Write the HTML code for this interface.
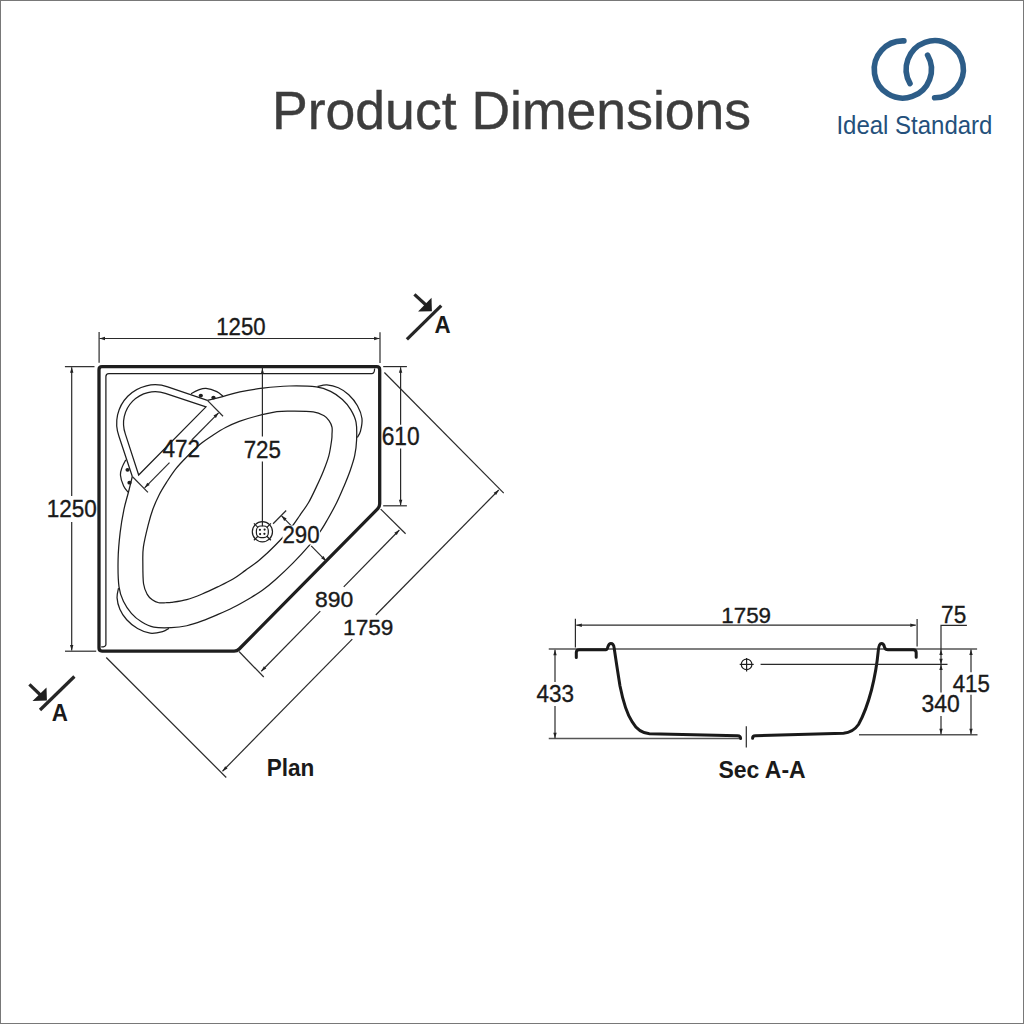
<!DOCTYPE html>
<html><head><meta charset="utf-8"><style>
html,body{margin:0;padding:0;background:#fff;}
body{width:1024px;height:1024px;overflow:hidden;}
svg{display:block;}
.thick{fill:none;stroke:#1e1e1e;stroke-width:3.3;stroke-linejoin:round;}
.thin{fill:none;stroke:#1e1e1e;stroke-width:1.25;}
.thin2{fill:none;stroke:#1e1e1e;stroke-width:1.2;}
.dim{fill:none;stroke:#2a2a2a;stroke-width:1.2;}
.ref{fill:none;stroke:#555;stroke-width:1.5;}
.ah{fill:#222;}
.fill{fill:#1e1e1e;}
.mk{stroke:#262626;stroke-width:3.2;}
.sec{fill:none;stroke:#1a1a1a;stroke-width:3;stroke-linecap:round;stroke-linejoin:round;}
.logo{fill:none;stroke:#2d5d88;stroke-width:5.6;stroke-linecap:round;}
text{font-family:"Liberation Sans",sans-serif;}
.num{fill:#1a1a1a;stroke:#1a1a1a;stroke-width:0.35;}
.bold{font-weight:bold;fill:#1a1a1a;}
.title{fill:#3d3d3d;stroke:#3d3d3d;stroke-width:0.4;}
.brand{fill:#24507b;}
</style></head><body>
<svg width="1024" height="1024" viewBox="0 0 1024 1024">
<rect x="0.5" y="0.5" width="1023" height="1023" fill="#fff" stroke="#787878" stroke-width="1"/>
<path d="M99.00 369.65 Q99.00 366.65 102.00 366.65 L376.70 366.65 Q379.70 366.65 379.70 369.65 L379.70 503.80 Q379.70 506.80 377.59 508.93 L239.21 648.97 Q237.10 651.10 234.10 651.10 L102.00 651.10 Q99.00 651.10 99.00 648.10 Z" class="thick"/>
<path d="M374.6 368.4 Q374.6 373.6 371.6 373.6 L108.9 373.6 Q105.9 373.6 105.9 376.6 L105.9 644.4 Q105.9 646.9 101.2 646.9" class="thin"/>
<path d="M207.40 400.40 C209.95 399.75 217.25 397.94 222.67 396.53 C228.09 395.12 233.23 393.35 239.93 391.94 C246.62 390.54 254.62 389.07 262.84 388.07 C271.05 387.08 280.30 386.19 289.21 386.00 C298.12 385.81 309.40 386.03 316.29 386.93 C323.19 387.82 326.23 389.28 330.58 391.37 C334.93 393.46 339.03 396.42 342.39 399.47 C345.74 402.51 348.46 405.86 350.73 409.64 C353.00 413.43 355.06 417.13 356.03 422.18 C357.01 427.23 356.82 434.38 356.60 439.95 C356.38 445.53 355.80 450.44 354.69 455.65 C353.58 460.85 351.78 466.00 349.95 471.20 C348.13 476.39 345.93 481.60 343.73 486.82 C341.53 492.03 339.48 496.98 336.73 502.51 C333.98 508.04 330.09 515.04 327.25 519.99 C324.41 524.95 322.68 528.02 319.69 532.25 C316.69 536.47 313.76 540.21 309.29 545.36 C304.83 550.51 298.55 557.40 292.89 563.13 C287.23 568.86 280.43 575.23 275.35 579.75 C270.27 584.28 266.58 587.25 262.41 590.29 C258.24 593.32 255.21 595.08 250.32 597.95 C245.43 600.83 238.52 604.77 233.07 607.56 C227.61 610.34 222.73 612.42 217.58 614.65 C212.43 616.88 207.29 619.10 202.17 620.95 C197.04 622.81 191.96 624.63 186.82 625.76 C181.68 626.88 176.84 627.46 171.34 627.69 C165.83 627.92 158.79 628.11 153.80 627.12 C148.82 626.13 145.16 624.05 141.43 621.74 C137.69 619.44 134.39 616.69 131.39 613.29 C128.38 609.88 125.46 605.73 123.40 601.32 C121.33 596.91 119.90 593.83 119.01 586.85 C118.13 579.86 117.90 568.43 118.09 559.40 C118.28 550.37 119.16 541.00 120.14 532.68 C121.12 524.35 122.57 516.24 123.96 509.46 C125.35 502.68 127.10 497.47 128.49 491.98 C129.88 486.48 131.67 479.08 132.30 476.50" class="thin"/>
<path d="M275.28 545.29 C272.45 548.15 269.68 550.84 266.58 553.67 C263.48 556.50 260.21 559.49 256.68 562.27 C253.16 565.05 249.38 567.57 245.44 570.37 C241.51 573.16 237.70 576.28 233.07 579.04 C228.44 581.80 222.80 584.42 217.65 586.92 C212.50 589.41 207.32 591.90 202.17 594.01 C197.02 596.13 191.88 598.20 186.75 599.60 C181.63 601.00 174.90 601.87 171.41 602.40 C167.92 602.92 167.93 602.69 165.82 602.75 C163.71 602.81 161.01 603.26 158.75 602.75 C156.49 602.25 154.17 601.14 152.25 599.74 C150.32 598.35 148.67 597.03 147.22 594.37 C145.78 591.71 144.28 589.00 143.55 583.77 C142.82 578.53 142.86 569.12 142.84 562.99 C142.82 556.85 142.51 553.29 143.41 546.93 C144.30 540.58 146.61 531.22 148.21 524.86 C149.82 518.51 151.21 513.81 153.02 508.81 C154.84 503.82 156.85 499.32 159.10 494.91 C161.36 490.51 163.75 486.72 166.53 482.37 C169.31 478.03 172.32 473.19 175.79 468.83 C179.27 464.47 183.38 460.28 187.39 456.22 C191.40 452.16 195.53 447.99 199.83 444.47 C204.13 440.94 208.91 437.90 213.20 435.08 C217.49 432.26 221.22 429.84 225.57 427.56 C229.92 425.28 234.36 423.23 239.29 421.39 C244.22 419.56 248.86 418.15 255.13 416.52 C261.40 414.90 270.64 412.56 276.91 411.65 C283.18 410.74 286.69 411.05 292.75 411.08 C298.80 411.10 308.09 411.05 313.25 411.79 C318.42 412.53 321.09 414.05 323.72 415.52 C326.35 416.99 327.64 418.66 329.02 420.61 C330.40 422.55 331.50 424.91 331.99 427.20 C332.49 429.49 332.05 432.23 331.99 434.36 C331.93 436.50 332.16 436.49 331.64 440.03 C331.12 443.56 330.26 450.38 328.88 455.57 C327.50 460.77 325.45 465.98 323.36 471.20 C321.28 476.41 318.83 481.67 316.36 486.89 C313.90 492.11 311.31 497.82 308.59 502.51 C305.86 507.20 302.79 511.06 300.03 515.05 C297.27 519.04 294.79 522.87 292.04 526.44 C289.29 530.01 286.35 533.33 283.55 536.47 C280.76 539.61 278.11 542.42 275.28 545.29 Z" class="thin"/>
<path d="M317.50 386.43 C319.06 386.18 323.42 384.70 326.90 384.92 C330.38 385.15 334.71 386.15 338.36 387.79 C342.00 389.42 345.57 391.75 348.75 394.74 C351.93 397.72 355.24 401.75 357.45 405.70 C359.65 409.66 361.47 414.22 361.97 418.46 C362.48 422.70 361.27 427.96 360.49 431.14 C359.71 434.32 357.84 436.45 357.31 437.52" class="thin"/>
<path d="M118.52 588.06 C118.27 589.65 116.81 594.07 117.03 597.60 C117.26 601.12 118.25 605.51 119.86 609.20 C121.47 612.89 123.77 616.51 126.72 619.74 C129.66 622.96 133.64 626.32 137.54 628.55 C141.44 630.78 145.94 632.62 150.12 633.14 C154.31 633.65 159.50 632.42 162.64 631.63 C165.77 630.84 167.88 628.94 168.93 628.41" class="thin"/>
<path d="M207.40 400.40 L167.71 386.86 A38.5 38.5 0 0 0 118.94 436.28 L132.30 476.50" class="thin"/>
<path d="M205.99 406.85 L165.32 393.31 A31.7 31.7 0 0 0 125.31 433.86 L138.67 475.06 Z" class="thin"/>
<line x1="207.40" y1="400.40" x2="223.03" y2="416.24" class="dim"/>
<line x1="132.30" y1="476.50" x2="147.93" y2="492.33" class="dim"/>
<path d="M190.99 393.81 C192.18 393.20 195.64 391.06 198.14 390.15 C200.63 389.25 202.87 388.12 205.99 388.36 C209.10 388.60 213.99 390.28 216.80 391.59 C219.62 392.89 221.87 395.41 222.89 396.17" class="thin"/>
<path d="M125.80 459.87 C125.20 461.08 123.09 464.58 122.19 467.11 C121.30 469.64 120.19 471.91 120.43 475.06 C120.66 478.22 122.32 483.17 123.61 486.03 C124.89 488.88 127.38 491.16 128.13 492.19" class="thin"/>
<ellipse cx="200.82" cy="395.60" rx="2.1" ry="1.9" class="fill"/>
<ellipse cx="127.57" cy="469.83" rx="2.1" ry="1.9" class="fill"/>
<ellipse cx="213.48" cy="397.53" rx="2.1" ry="1.9" class="fill"/>
<ellipse cx="129.48" cy="482.66" rx="2.1" ry="1.9" class="fill"/>
<line x1="218.57" y1="412.87" x2="191.77" y2="440.03" class="dim"/>
<line x1="169.50" y1="462.60" x2="144.61" y2="487.82" class="dim"/>
<path d="M218.57 412.87 L215.92 417.98 L213.50 415.59 Z" class="ah"/>
<path d="M144.61 487.82 L147.26 482.71 L149.68 485.10 Z" class="ah"/>
<text x="162.48" y="457.20" textLength="37.65" lengthAdjust="spacingAndGlyphs" font-size="23.49" class="num">472</text>
<line x1="262.40" y1="367.60" x2="262.40" y2="436.60" class="dim"/>
<line x1="262.40" y1="461.60" x2="262.40" y2="526.30" class="dim"/>
<path d="M262.40 368.40 L264.10 373.90 L260.70 373.90 Z" class="ah"/>
<text x="243.65" y="457.70" textLength="37.28" lengthAdjust="spacingAndGlyphs" font-size="23.63" class="num">725</text>
<circle cx="262.4" cy="531.8" r="10.1" class="thin2"/>
<rect x="256.4" y="526" width="11.9" height="11.6" rx="4.5" class="thin2"/>
<line x1="266.64" y1="536.04" x2="270.89" y2="540.29" class="thin2"/>
<line x1="258.16" y1="536.04" x2="253.91" y2="540.29" class="thin2"/>
<line x1="258.16" y1="527.56" x2="253.91" y2="523.31" class="thin2"/>
<line x1="266.64" y1="527.56" x2="270.89" y2="523.31" class="thin2"/>
<circle cx="259.90" cy="529.80" r="1.1" class="fill"/>
<circle cx="264.60" cy="529.60" r="1.1" class="fill"/>
<circle cx="260.10" cy="534.10" r="1.1" class="fill"/>
<circle cx="264.40" cy="533.80" r="1.1" class="fill"/>
<line x1="273.09" y1="523.72" x2="286.17" y2="510.46" class="dim"/>
<line x1="281.57" y1="515.84" x2="293.38" y2="527.80" class="dim"/>
<line x1="311.20" y1="545.86" x2="326.19" y2="561.05" class="dim"/>
<path d="M281.57 515.84 L286.65 518.56 L284.23 520.95 Z" class="ah"/>
<path d="M326.19 561.05 L321.12 558.33 L323.54 555.94 Z" class="ah"/>
<line x1="99.10" y1="332.10" x2="99.10" y2="362.80" class="dim"/>
<line x1="380.00" y1="332.20" x2="380.00" y2="363.00" class="dim"/>
<line x1="99.50" y1="338.50" x2="379.60" y2="338.50" class="dim"/>
<path d="M99.50 338.50 L105.00 336.80 L105.00 340.20 Z" class="ah"/>
<path d="M379.60 338.50 L374.10 340.20 L374.10 336.80 Z" class="ah"/>
<text x="216.31" y="334.50" textLength="49.30" lengthAdjust="spacingAndGlyphs" font-size="23.70" class="num">1250</text>
<line x1="64.90" y1="366.65" x2="94.50" y2="366.65" class="dim"/>
<line x1="65.00" y1="651.20" x2="96.20" y2="651.20" class="dim"/>
<line x1="71.70" y1="367.20" x2="71.70" y2="496.00" class="dim"/>
<line x1="71.70" y1="522.00" x2="71.70" y2="650.60" class="dim"/>
<path d="M71.70 367.20 L73.40 372.70 L70.00 372.70 Z" class="ah"/>
<path d="M71.70 650.60 L70.00 645.10 L73.40 645.10 Z" class="ah"/>
<text x="46.78" y="517.00" textLength="50.09" lengthAdjust="spacingAndGlyphs" font-size="23.70" class="num">1250</text>
<line x1="383.20" y1="366.60" x2="406.90" y2="366.60" class="dim"/>
<line x1="383.20" y1="505.80" x2="406.90" y2="505.80" class="dim"/>
<line x1="400.60" y1="367.30" x2="400.60" y2="424.70" class="dim"/>
<line x1="400.60" y1="448.40" x2="400.60" y2="505.20" class="dim"/>
<path d="M400.60 367.30 L402.30 372.80 L398.90 372.80 Z" class="ah"/>
<path d="M400.60 505.20 L398.90 499.70 L402.30 499.70 Z" class="ah"/>
<text x="381.64" y="444.70" textLength="38.00" lengthAdjust="spacingAndGlyphs" font-size="24.92" class="num">610</text>
<line x1="380.70" y1="509.10" x2="405.60" y2="533.75" class="dim"/>
<line x1="239.00" y1="651.50" x2="263.75" y2="677.00" class="dim"/>
<line x1="399.40" y1="530.00" x2="343.75" y2="586.90" class="dim"/>
<line x1="320.30" y1="611.10" x2="261.25" y2="671.25" class="dim"/>
<path d="M399.40 530.00 L396.77 535.12 L394.34 532.74 Z" class="ah"/>
<path d="M261.25 671.25 L263.88 666.13 L266.31 668.51 Z" class="ah"/>
<text x="314.90" y="607.20" textLength="38.29" lengthAdjust="spacingAndGlyphs" font-size="22.49" class="num">890</text>
<line x1="384.40" y1="372.50" x2="503.75" y2="493.10" class="dim"/>
<line x1="106.25" y1="657.50" x2="226.25" y2="777.50" class="dim"/>
<line x1="498.75" y1="490.00" x2="375.80" y2="615.00" class="dim"/>
<line x1="352.30" y1="639.20" x2="222.50" y2="771.25" class="dim"/>
<path d="M498.75 490.00 L496.11 495.12 L493.68 492.73 Z" class="ah"/>
<path d="M222.50 771.25 L225.14 766.13 L227.57 768.52 Z" class="ah"/>
<text x="343.08" y="634.50" textLength="50.19" lengthAdjust="spacingAndGlyphs" font-size="22.34" class="num">1759</text>
<rect x="282.5" y="525.5" width="37.5" height="19" fill="#fff"/>
<text x="282.48" y="543.00" textLength="37.14" lengthAdjust="spacingAndGlyphs" font-size="24.06" class="num">290</text>
<line x1="406.9" y1="339.4" x2="441.25" y2="305.6" class="mk"/>
<line x1="414.4" y1="294.4" x2="426" y2="305" class="mk"/>
<path d="M431.9 311.25 L418.1 311.5 L431.5 297.75 Z" class="fill"/>
<text x="434.44" y="332.50" textLength="16.15" lengthAdjust="spacingAndGlyphs" font-size="23.62" class="bold">A</text>
<line x1="40" y1="710" x2="74.4" y2="676.5" class="mk"/>
<line x1="29.4" y1="684.4" x2="41" y2="695.5" class="mk"/>
<path d="M46.9 700.6 L32.5 701 L46.5 687.5 Z" class="fill"/>
<text x="51.69" y="720.60" textLength="16.15" lengthAdjust="spacingAndGlyphs" font-size="23.55" class="bold">A</text>
<text x="266.69" y="775.80" textLength="47.71" lengthAdjust="spacingAndGlyphs" font-size="24.71" class="bold">Plan</text>
<line x1="575.40" y1="618.80" x2="575.40" y2="647.50" class="dim"/>
<line x1="917.10" y1="619.00" x2="917.10" y2="646.40" class="dim"/>
<line x1="576.30" y1="625.20" x2="915.80" y2="625.20" class="dim"/>
<path d="M576.30 625.20 L581.80 623.50 L581.80 626.90 Z" class="ah"/>
<path d="M915.80 625.20 L910.30 626.90 L910.30 623.50 Z" class="ah"/>
<text x="721.30" y="622.50" textLength="49.76" lengthAdjust="spacingAndGlyphs" font-size="21.91" class="num">1759</text>
<line x1="548.75" y1="648.90" x2="977.10" y2="648.90" class="ref"/>
<line x1="548.75" y1="738.60" x2="739.50" y2="738.60" class="ref"/>
<line x1="859.00" y1="734.70" x2="977.50" y2="734.70" class="ref"/>
<line x1="555.00" y1="649.80" x2="555.00" y2="682.00" class="dim"/>
<line x1="555.00" y1="706.00" x2="555.00" y2="738.20" class="dim"/>
<path d="M555.00 649.80 L556.70 655.30 L553.30 655.30 Z" class="ah"/>
<path d="M555.00 738.20 L553.30 732.70 L556.70 732.70 Z" class="ah"/>
<text x="536.48" y="701.75" textLength="37.50" lengthAdjust="spacingAndGlyphs" font-size="23.34" class="num">433</text>
<path d="M576.3 657.6 L576.3 652.6 Q576.3 649.7 579.3 649.7 L605.8 649.7 Q607.2 649.7 607.8 647.0 Q609.0 643.6 610.9 643.6 Q613.6 643.6 614.2 648.2 Q616.5 664 620 686 Q625 711 632 721.5 Q638.5 733 649.5 733.7 L737.5 735.8 Q740.6 736 740.6 738.4" class="sec"/>
<path d="M752.6 738.3 Q752.6 735.9 755.3 735.8 L843.5 733.2 Q853 732.5 858.5 724.5 Q866 711 871.5 690 Q876.5 670 878.2 651.5 Q878.8 643.6 881.4 643.6 Q883.8 643.6 884.6 647.5 Q885.4 649.7 888 649.7 L913.4 649.7 Q916.2 649.7 916.2 652.7 L916.2 657.3" class="sec"/>
<line x1="746.30" y1="726.30" x2="746.30" y2="747.50" class="dim"/>
<circle cx="746.6" cy="664.4" r="5.3" class="thin2"/>
<line x1="739.70" y1="664.40" x2="753.70" y2="664.40" class="thin2"/>
<line x1="746.60" y1="658.00" x2="746.60" y2="671.60" class="thin2"/>
<line x1="760.60" y1="664.40" x2="947.50" y2="664.40" class="dim"/>
<path d="M966.9 625.4 L941 625.4 L941 692.5" class="dim" fill="none"/>
<line x1="941.00" y1="716.00" x2="941.00" y2="734.20" class="dim"/>
<path d="M941.00 649.60 L942.70 655.10 L939.30 655.10 Z" class="ah"/>
<path d="M941.00 664.20 L939.30 658.70 L942.70 658.70 Z" class="ah"/>
<path d="M941.00 664.60 L942.70 670.10 L939.30 670.10 Z" class="ah"/>
<path d="M941.00 734.20 L939.30 728.70 L942.70 728.70 Z" class="ah"/>
<text x="941.09" y="622.70" textLength="25.10" lengthAdjust="spacingAndGlyphs" font-size="24.56" class="num">75</text>
<text x="921.43" y="712.00" textLength="38.22" lengthAdjust="spacingAndGlyphs" font-size="23.49" class="num">340</text>
<line x1="971.00" y1="649.50" x2="971.00" y2="672.30" class="dim"/>
<line x1="971.00" y1="694.80" x2="971.00" y2="734.20" class="dim"/>
<path d="M971.00 649.50 L972.70 655.00 L969.30 655.00 Z" class="ah"/>
<path d="M971.00 734.20 L969.30 728.70 L972.70 728.70 Z" class="ah"/>
<text x="952.69" y="691.80" textLength="37.15" lengthAdjust="spacingAndGlyphs" font-size="23.84" class="num">415</text>
<text x="718.44" y="778.10" textLength="87.26" lengthAdjust="spacingAndGlyphs" font-size="23.98" class="bold">Sec A-A</text>
<text x="272.01" y="129.10" textLength="479.13" lengthAdjust="spacingAndGlyphs" font-size="54.51" class="title">Product Dimensions</text>
<path d="M903.9 40.9 A28.6 28.6 0 1 0 927.6 55.2" class="logo"/>
<path d="M934.6 97.8 A28.6 28.6 0 1 0 910.0 83.5" class="logo"/>
<text x="836.39" y="133.70" textLength="156.06" lengthAdjust="spacingAndGlyphs" font-size="26.16" class="brand">Ideal Standard</text>
</svg>
</body></html>
